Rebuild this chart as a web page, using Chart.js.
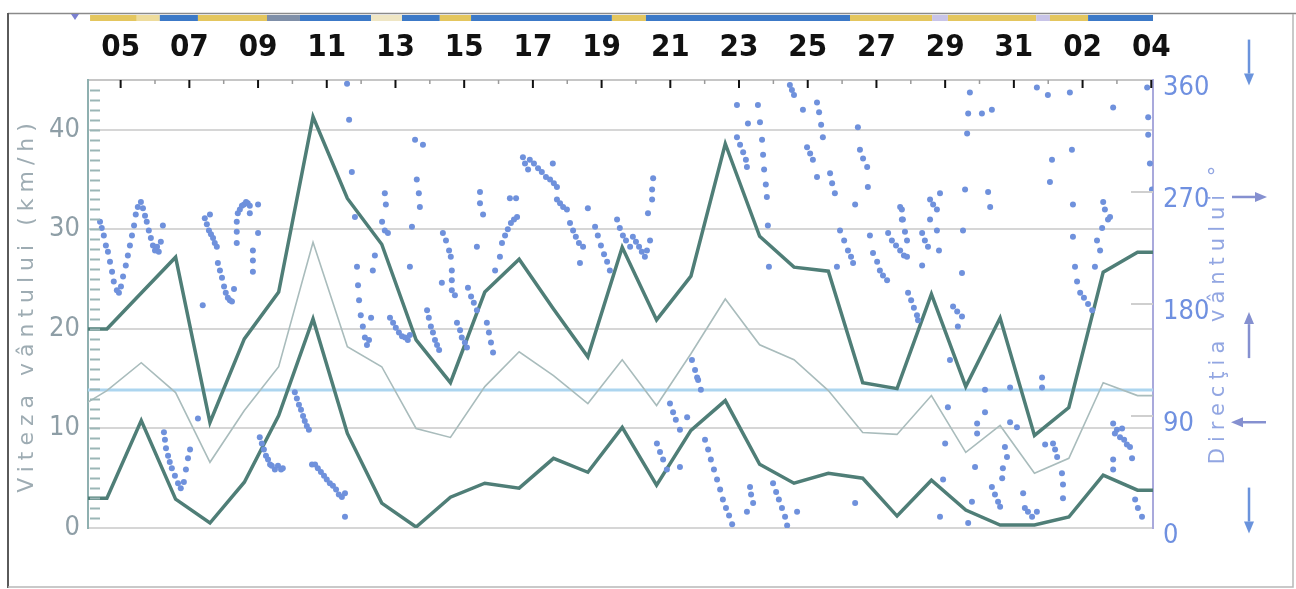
<!DOCTYPE html>
<html><head><meta charset="utf-8">
<script src="https://cdn.jsdelivr.net/npm/chart.js@4.4.0/dist/chart.umd.min.js"></script>
<style>html,body{margin:0;padding:0;background:#fff;}canvas{display:block;}</style>
</head><body>
<canvas id="c" width="1296" height="589"></canvas>
<script>
// ---- data ----
const dayLabels = ['05','07','09','11','13','15','17','19','21','23','25','27','29','31','02','04'];
const firstLabelDay = 0.4;           // day position of first label
const speedTicks = [0,10,20,30,40];
const dirTicks = [0,90,180,270,360];
const dayIndex  = [-1,0,1,2,3,4,5,6,7,8,9,10,11,12,13,14,15,16,17,18,19,20,21,22,23,24,25,26,27,28,29,30,31];
const maxSpeed  = [20,20,23.6,27.2,10.6,19.0,23.7,41.3,33.1,28.5,18.9,14.6,23.7,27.0,22.0,17.2,28.2,20.9,25.3,38.6,29.3,26.2,25.8,14.6,14.0,23.5,14.2,21.1,9.3,12.1,25.7,27.7,27.7];
const meanSpeed = [11.7,13.8,16.6,13.6,6.6,11.8,16.2,28.7,18.2,16.2,10.0,9.1,14.2,17.7,15.3,12.5,16.9,12.3,17.5,23.0,18.4,16.9,13.8,9.6,9.4,13.3,7.6,10.3,5.5,7.0,14.6,13.3,13.3];
const minSpeed  = [3.0,3.0,10.8,2.9,0.5,4.6,11.3,21.0,9.5,2.5,0.1,3.1,4.5,4.0,7.0,5.6,10.1,4.3,9.8,12.8,6.4,4.5,5.5,5.0,1.2,4.8,1.8,0.3,0.3,1.1,5.3,3.8,3.8];
const overallMean = 13.85;
const windDir = [
[-0.20,246],[-0.15,241],[-0.09,235],[-0.03,227],[0.03,222],[0.09,214],[0.15,206],[0.20,198],[0.29,191],[0.35,189],[0.41,194],[0.47,202],[0.55,211],[0.61,219],[0.67,227],[0.73,235],[0.79,243],[0.84,252],[0.90,258],[0.99,262],[1.05,257],[1.11,251],[1.16,246],[1.22,239],[1.28,233],[1.34,227],[1.40,223],[1.46,226],[1.51,222],[1.57,230],[1.63,243],
[1.66,77],[1.69,71],[1.72,64],[1.78,58],[1.83,53],[1.89,48],[1.98,42],[2.07,36],[2.15,32],[2.24,37],[2.30,47],[2.36,56],[2.42,63],[2.65,88],
[2.79,179],
[2.85,249],[2.91,244],[2.97,239],[3.03,236],[3.09,233],[3.14,229],[3.20,226],[3.00,252],
[3.23,213],[3.29,207],[3.35,201],[3.41,194],[3.46,189],[3.52,185],[3.58,183],[3.64,182],[3.70,192],
[3.78,246],[3.78,238],[3.78,229],
[3.81,253],[3.87,256],[3.93,259],[3.99,260],[4.05,262],[4.10,261],[4.16,259],[4.16,253],[4.40,260],
[4.25,223],[4.25,215],[4.25,206],[4.40,237],
[4.45,73],[4.51,68],[4.57,63],[4.63,58],[4.69,55],[4.75,51],[4.80,50],[4.89,47],[4.98,50],[5.07,47],[5.12,48],
[5.47,109],[5.53,104],[5.59,99],[5.65,95],[5.71,90],[5.76,86],[5.82,82],[5.88,79],
[5.97,51],[6.06,51],[6.14,48],[6.23,45],[6.32,42],[6.40,39],[6.49,36],[6.58,34],[6.67,31],[6.75,27],[6.84,25],[6.93,28],[6.93,9],
[6.99,357],[7.05,328],[7.13,286],[7.22,250],
[7.28,210],[7.31,195],[7.34,183],[7.39,171],[7.45,162],[7.51,153],[7.57,147],[7.63,151],[7.69,169],[7.74,207],[7.80,219],
[8.01,246],[8.09,239],[8.18,237],[8.09,269],[8.12,260],
[8.24,169],[8.33,165],[8.41,161],[8.50,157],[8.59,154],[8.68,153],[8.76,151],[8.82,155],
[8.82,210],[8.88,242],[8.97,312],[9.20,308],[9.02,280],[9.08,269],[9.11,258],
[9.32,175],[9.37,169],[9.43,162],[9.49,157],[9.55,151],[9.61,147],[9.67,143],
[9.75,197],[9.78,237],[9.87,231],[9.96,223],[10.01,218],[10.04,207],[10.04,199],[10.04,191],[10.13,187],[10.19,165],[10.28,159],[10.33,153],[10.42,149],[10.48,145],
[10.51,193],[10.60,186],[10.68,181],[10.77,175],[10.77,226],[10.86,270],[10.86,261],[10.95,252],
[11.06,165],[11.12,157],[11.18,149],[11.24,141],[11.30,207],[11.44,218],
[11.50,229],[11.59,235],[11.67,240],[11.76,245],[11.85,248],[11.94,250],[11.73,265],[11.91,265],
[12.11,298],[12.17,293],[12.26,288],
[12.31,296],[12.43,293],[12.55,289],[12.66,286],[12.78,282],[12.90,280],[13.01,277],[13.10,274],[12.98,293],
[13.10,264],[13.19,261],[13.28,258],[13.39,256],
[13.48,245],[13.57,239],[13.65,234],[13.74,229],[13.86,226],[13.77,213],
[14.00,257],
[14.21,242],[14.29,235],[14.38,227],[14.47,220],[14.56,214],[14.64,207],
[14.85,248],[14.93,241],[15.02,235],[15.11,231],[15.23,226],
[15.31,234],[15.40,230],[15.49,226],[15.57,222],[15.66,218],[15.72,223],[15.81,231],
[15.90,281],[15.87,272],[15.87,264],[15.75,253],
[16.01,68],[16.10,61],[16.19,55],[16.30,47],
[16.39,100],[16.48,93],[16.56,87],[16.68,79],[16.68,49],[16.89,89],
[17.03,135],[17.12,127],[17.21,119],[17.29,111],[17.18,121],
[17.41,71],[17.50,63],[17.58,55],[17.67,47],[17.76,39],[17.85,31],[17.93,23],[18.02,16],[18.11,10],[18.20,3],
[18.34,314],[18.43,308],[18.52,302],[18.60,296],[18.63,290],[18.34,340],[18.66,325],
[18.72,33],[18.75,27],[18.81,20],[18.63,13],
[18.95,340],[19.01,326],[19.07,312],[19.10,300],[19.13,288],[19.18,276],[19.21,266],[19.24,243],[19.27,210],
[19.39,36],[19.48,29],[19.56,23],[19.65,16],[19.74,9],[19.80,2],[20.09,13],
[19.88,356],[19.94,352],[20.00,348],[20.26,336],[20.38,306],[20.47,301],[20.55,296],[20.67,342],[20.73,334],[20.79,324],[20.84,314],[20.67,282],
[21.05,285],[21.11,277],[21.19,269],[21.34,239],[21.46,231],[21.57,223],[21.66,218],[21.72,213],[21.25,210],[21.78,260],
[21.92,304],[22.01,297],[22.13,290],[22.15,274],[21.86,322],[22.21,235],
[22.30,221],[22.42,214],[22.50,207],[22.59,203],[22.71,199],
[22.74,237],[22.85,231],[22.97,227],[23.09,223],[23.20,219],[23.29,218],[23.14,256],[23.14,248],
[23.32,189],[23.41,183],[23.49,177],[23.58,171],[23.61,167],
[21.78,20],
[23.09,258],[23.17,248],[23.23,238],[23.29,231],
[23.73,237],[23.81,231],[23.90,226],
[23.96,264],[24.05,260],[24.16,256],[23.96,248],[24.16,239],[24.22,223],[24.25,269],[23.73,211],
[24.63,178],[24.75,174],[24.89,170],
[24.54,135],[24.77,162],[24.89,205],[24.92,239],[24.98,272],[25.04,317],[25.07,333],[25.12,350],[25.47,333],[25.76,336],[25.65,270],[25.71,258],
[24.48,97],[24.40,68],[24.34,39],[24.25,9],[25.07,4],
[25.33,84],[25.33,76],[25.27,49],[25.18,21],
[25.56,111],[25.56,93],
[25.76,33],[25.85,27],[25.94,21],[26.00,17],
[26.08,48],[26.14,65],[26.20,57],[26.06,40],
[26.29,113],[26.29,85],[26.49,81],
[26.67,28],[26.72,16],[26.81,13],[26.93,9],[27.07,13],
[27.22,121],[27.22,113],[27.31,67],[27.54,68],[27.60,63],[27.66,57],[27.80,44],[27.83,35],[27.83,24],
[27.07,354],[27.39,348],[28.03,350],[27.51,296],[27.45,278],[28.09,304],
[28.12,260],[28.12,234],[28.18,210],[28.24,198],
[28.33,189],[28.44,185],[28.56,180],[28.68,175],
[28.76,210],[28.82,231],[28.91,223],[28.97,241],[29.00,262],[29.05,256],[29.14,248],[29.20,250],[29.29,338],
[29.29,84],[29.40,79],[29.49,73],[29.61,71],[29.69,67],[29.78,65],[29.34,76],[29.55,80],[29.29,55],[29.29,47],[29.84,56],
[29.93,23],[30.01,16],[30.13,9],
[30.28,354],[30.31,330],[30.31,316],[30.36,293],[30.42,272]
];
// top status strip (day ranges and colours)
const stripFrom  = [-0.49,0.87,1.54,2.65,4.66,5.62,7.69,8.59,9.69,10.60,14.70,15.69,21.63,24.02,24.48,27.05,27.45,28.56];
const stripTo    = [0.87,1.54,2.65,4.66,5.62,7.69,8.59,9.69,10.60,14.70,15.69,21.63,24.02,24.48,27.05,27.45,28.56,30.45];
const stripColor = ['#e4c65e','#eedc9c','#3c79c7','#e4c65e','#7f8fa8','#3c79c7','#efe6c4','#3c79c7','#e4c65e','#3c79c7','#e4c65e','#3c79c7','#e4c65e','#c8c4e8','#e4c65e','#c8c4e8','#e4c65e','#3c79c7'];
// compass arrows on right: direction value where drawn, and arrow orientation
const arrowAt  = [374, 266, 155, 85, 14];
const arrowDir = ['down','right','up','left','down'];

const X_MIN = -0.55, X_MAX = 30.45;
const NARROW = "'Liberation Sans Narrow','DejaVu Sans Condensed','Roboto Condensed',sans-serif";

const decor = {
  id: 'decor',
  beforeDraw(chart) {
    const ctx = chart.ctx;
    ctx.save();
    ctx.strokeStyle = '#8a8a8a'; ctx.lineWidth = 1.5;
    ctx.beginPath(); ctx.moveTo(8, 13.5); ctx.lineTo(1296, 13.5); ctx.stroke();
    ctx.strokeStyle = '#5a5a5a'; ctx.lineWidth = 2;
    ctx.beginPath(); ctx.moveTo(8, 13); ctx.lineTo(8, 588); ctx.stroke();
    ctx.strokeStyle = '#b8b8b8'; ctx.lineWidth = 1.5;
    ctx.beginPath(); ctx.moveTo(8, 587); ctx.lineTo(1293, 587); ctx.lineTo(1293, 14); ctx.stroke();
    ctx.restore();
  },
  afterDraw(chart) {
    const {ctx, chartArea: a, scales} = chart;
    const x = scales.x, y = scales.y, y2 = scales.y2;
    ctx.save();
    // status strip
    for (let i = 0; i < stripFrom.length; i++) {
      const x0 = x.getPixelForValue(stripFrom[i]), x1 = x.getPixelForValue(stripTo[i]);
      ctx.fillStyle = stripColor[i];
      ctx.fillRect(x0, 15, x1 - x0, 6);
    }
    ctx.fillStyle = '#7a80d0';
    ctx.beginPath(); ctx.moveTo(71, 14); ctx.lineTo(79, 14); ctx.lineTo(75, 20); ctx.closePath(); ctx.fill();
    // top day ticks (inside)
    for (let i = 0; i <= 30; i++) {
      const px = x.getPixelForValue(firstLabelDay + i);
      ctx.beginPath();
      if (i % 2 === 0) { ctx.strokeStyle = '#111'; ctx.lineWidth = 2; ctx.moveTo(px, a.top); ctx.lineTo(px, a.top + 8); }
      else { ctx.strokeStyle = '#9a9a9a'; ctx.lineWidth = 1.5; ctx.moveTo(px, a.top); ctx.lineTo(px, a.top + 4); }
      ctx.stroke();
    }
    // left minor ticks
    ctx.strokeStyle = '#9bb6b6'; ctx.lineWidth = 2;
    for (let v = 1; v < 45; v++) {
      const py = Math.round(y.getPixelForValue(v)) + 0.5;
      ctx.beginPath(); ctx.moveTo(a.left + 2, py); ctx.lineTo(a.left + 12, py); ctx.stroke();
    }
    // right inner ticks
    ctx.strokeStyle = '#cfcfcf'; ctx.lineWidth = 2;
    [90,180,270].forEach(v => {
      const py = y2.getPixelForValue(v);
      ctx.beginPath(); ctx.moveTo(a.right - 22, py); ctx.lineTo(a.right, py); ctx.stroke();
    });
    // arrows
    const ax = 1249;
    arrowAt.forEach((v, i) => {
      const py = y2.getPixelForValue(v);
      const d = arrowDir[i];
      ctx.strokeStyle = d === 'down' ? '#6a93dc' : '#8590d0';
      ctx.fillStyle = ctx.strokeStyle;
      ctx.lineWidth = 2.5;
      let x0, y0, x1, y1;
      if (d === 'down') { x0 = ax; x1 = ax; y0 = py - 23; y1 = py + 23; }
      else if (d === 'up') { x0 = ax; x1 = ax; y0 = py + 23; y1 = py - 23; }
      else if (d === 'right') { y0 = py; y1 = py; x0 = ax - 17; x1 = ax + 18; }
      else { y0 = py; y1 = py; x0 = ax + 17; x1 = ax - 18; }
      const ang = Math.atan2(y1 - y0, x1 - x0);
      const hl = 12, hw = 5;
      const bx = x1 - hl * Math.cos(ang), by = y1 - hl * Math.sin(ang);
      ctx.beginPath(); ctx.moveTo(x0, y0); ctx.lineTo(bx, by); ctx.stroke();
      ctx.beginPath();
      ctx.moveTo(x1, y1);
      ctx.lineTo(bx + hw * Math.sin(ang), by - hw * Math.cos(ang));
      ctx.lineTo(bx - hw * Math.sin(ang), by + hw * Math.cos(ang));
      ctx.closePath(); ctx.fill();
    });
    // axis titles
    ctx.textAlign = 'center'; ctx.textBaseline = 'middle';
    ctx.font = "22px 'DejaVu Sans'";
    if ('letterSpacing' in ctx) ctx.letterSpacing = '6px';
    ctx.save();
    ctx.translate(27, 305); ctx.rotate(-Math.PI / 2);
    ctx.fillStyle = '#9eacb3';
    ctx.fillText('Viteza vântului (km/h)', 0, 0);
    ctx.restore();
    ctx.save();
    ctx.font = "21px 'DejaVu Sans'";
    ctx.translate(1219, 312); ctx.rotate(-Math.PI / 2);
    ctx.fillStyle = '#92a6e2';
    ctx.fillText('Direcţia vântului °', 0, 0);
    ctx.restore();
    ctx.restore();
  }
};

const toXY = arr => dayIndex.map((d, i) => ({x: d, y: arr[i]}));

new Chart(document.getElementById('c'), {
  type: 'scatter',
  data: {
    datasets: [
      { type: 'scatter', label: 'dir', data: windDir.map(p => ({x: p[0], y: p[1]})), yAxisID: 'y2',
        pointRadius: 3, pointBackgroundColor: '#6f91dc', pointBorderWidth: 0, order: 0 },
      { type: 'line', label: 'max', data: toXY(maxSpeed), yAxisID: 'y', borderColor: '#4f7e77', borderWidth: 3.5,
        pointRadius: 0, tension: 0, fill: false, order: 1 },
      { type: 'line', label: 'min', data: toXY(minSpeed), yAxisID: 'y', borderColor: '#4f7e77', borderWidth: 3.5,
        pointRadius: 0, tension: 0, fill: false, order: 1 },
      { type: 'line', label: 'mean', data: toXY(meanSpeed), yAxisID: 'y', borderColor: '#a9bcbc', borderWidth: 1.6,
        pointRadius: 0, tension: 0, fill: false, order: 2 },
      { type: 'line', label: 'avg', data: [{x: X_MIN, y: overallMean}, {x: X_MAX, y: overallMean}], yAxisID: 'y',
        borderColor: '#acd5ef', borderWidth: 3, pointRadius: 0, fill: false, order: 3 }
    ]
  },
  options: {
    responsive: false,
    animation: false,
    layout: { padding: { top: 0, left: 0, right: 0, bottom: 61 } },
    plugins: { legend: { display: false }, tooltip: { enabled: false } },
    scales: {
      x: {
        type: 'linear', position: 'top', min: X_MIN, max: X_MAX,
        afterBuildTicks: s => { s.ticks = dayLabels.map((_, i) => ({ value: firstLabelDay + 2 * i })); },
        afterFit: s => { s.height = 80; },
        grid: { drawOnChartArea: false, drawTicks: false },
        border: { color: '#c6c6c6', width: 2 },
        ticks: { autoSkip: false, maxRotation: 0, padding: 13, color: '#111',
          font: { family: NARROW, size: 31, weight: 'bold' },
          callback: (v, i) => dayLabels[i] }
      },
      y: {
        type: 'linear', position: 'left', min: 0, max: 45,
        afterBuildTicks: s => { s.ticks = speedTicks.map(v => ({ value: v })); },
        afterFit: s => { s.width = 88; },
        grid: { color: '#d6d6d6', lineWidth: 2, drawTicks: false },
        border: { color: '#8fb0b0', width: 2 },
        ticks: { padding: 8, color: '#8e9ea6', font: { family: NARROW, size: 27 } }
      },
      y2: {
        type: 'linear', position: 'right', min: 0, max: 360,
        afterBuildTicks: s => { s.ticks = dirTicks.map(v => ({ value: v })); },
        afterFit: s => { s.width = 143; },
        grid: { drawOnChartArea: false, drawTicks: false },
        border: { color: '#a9a9dc', width: 2 },
        ticks: { padding: 10, labelOffset: 8, color: '#6f90e0', font: { family: NARROW, size: 27 } }
      }
    }
  },
  plugins: [decor]
});
</script>
</body></html>
